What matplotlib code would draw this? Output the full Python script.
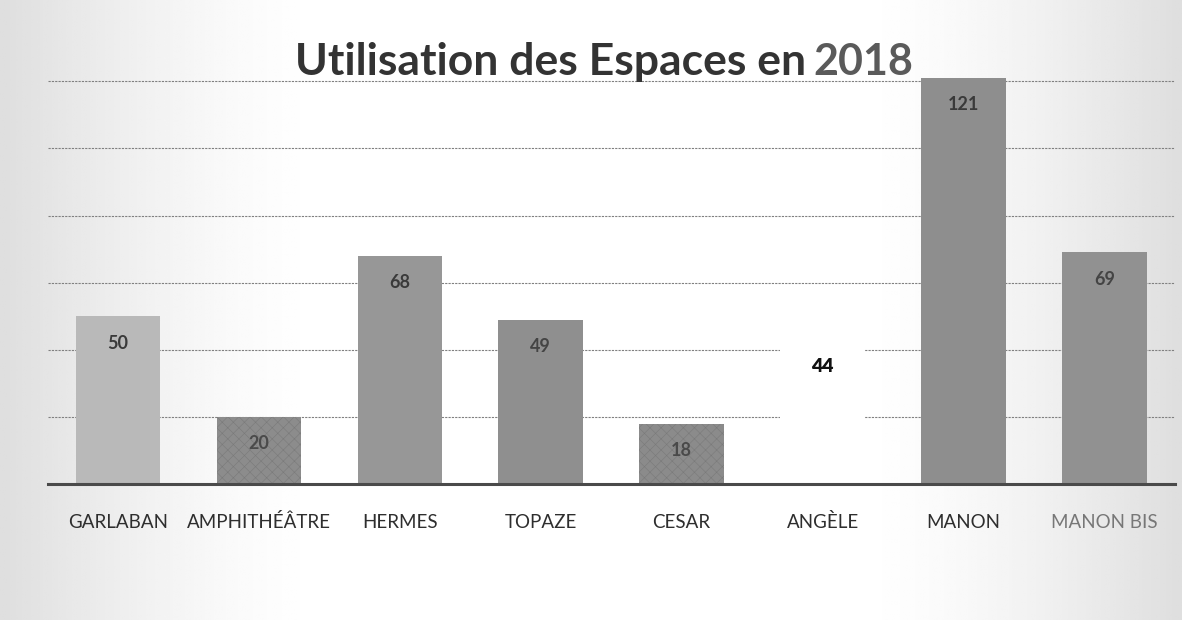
import numpy as np
import matplotlib.pyplot as plt

espaces = ["GARLABAN", "AMPHITHÉÂTRE", "HERMES", "TOPAZE", "CESAR", "ANGÈLE", "MANON", "MANON BIS"]
utilisations = [50, 20, 68, 49, 18, 44, 121, 69]
bar_colors = ["#b9b9b9", "#8c8c8c", "#979797", "#8f8f8f", "#8b8b8b", "#ffffff", "#8e8e8e", "#919191"]
hatches = ["", "xxx", "", "", "xxx", "", "", ""]
label_colors = ["#3a3a3a", "#4a4a4a", "#3a3a3a", "#444444", "#4a4a4a", "#111111", "#3a3a3a", "#444444"]

plt.rcParams["font.family"] = ["Lato", "DejaVu Sans"]
plt.rcParams["hatch.linewidth"] = 0.4

fig = plt.figure(figsize=(11.82, 6.2), dpi=100)

# scanned paper look: grey edges, white centre
bg = fig.add_axes([0, 0, 1, 1], zorder=-10)
xx = np.linspace(-1, 1, 400)
shade = 1 - 0.22 * np.clip(np.abs(xx) * 1.25 - 0.55, 0, 1) ** 1.5
bg.imshow(np.tile(shade, (50, 1)), cmap="gray", vmin=0, vmax=1, aspect="auto",
          extent=[0, 1, 0, 1])
bg.axis("off")

ax = fig.add_axes([0.0402, 0.2194, 0.9538, 0.671])
ax.patch.set_alpha(0)
x = np.arange(len(espaces))
bars = ax.bar(x, utilisations, width=0.6, color=bar_colors, zorder=2, linewidth=0)
for b, h in zip(bars, hatches):
    if h:
        b.set_hatch(h)
        b.set_edgecolor("#7a7a7a")

for i, (xi, v, c) in enumerate(zip(x, utilisations, label_colors)):
    big = espaces[i] == "ANGÈLE"
    ax.text(xi, v - (9 if big else 8), str(v), ha="center", va="center",
            fontsize=14 if big else 13, fontweight="heavy" if big else "bold",
            color=c, zorder=3)

ax.set_xlim(-0.5, len(espaces) - 0.5)
ax.set_ylim(0, 124)
ax.set_yticks([20, 40, 60, 80, 100, 120])
ax.yaxis.grid(True, color="#808080", linestyle=(0, (2, 1)), linewidth=0.8, zorder=0)
ax.tick_params(axis="y", left=False, labelleft=False)
ax.set_xticks(x)
ax.set_xticklabels(espaces, fontsize=13.5, va="baseline")
ax.tick_params(axis="x", length=0, pad=32, colors="#2e2e2e")
ax.get_xticklabels()[-1].set_color("#777777")
for s in ["top", "right", "left"]:
    ax.spines[s].set_visible(False)
ax.spines["bottom"].set_color("#4a4a4a")
ax.spines["bottom"].set_linewidth(2.2)
ax.spines["bottom"].set_zorder(4)

fig.text(0.682, 0.900, "Utilisation des Espaces en", fontsize=32, fontweight="bold",
         color="#333333", ha="right", va="center")
fig.text(0.688, 0.900, "2018", fontsize=31, fontweight="bold", color="#5a5a5a",
         ha="left", va="center")

fig.savefig("out.png", dpi=100)
